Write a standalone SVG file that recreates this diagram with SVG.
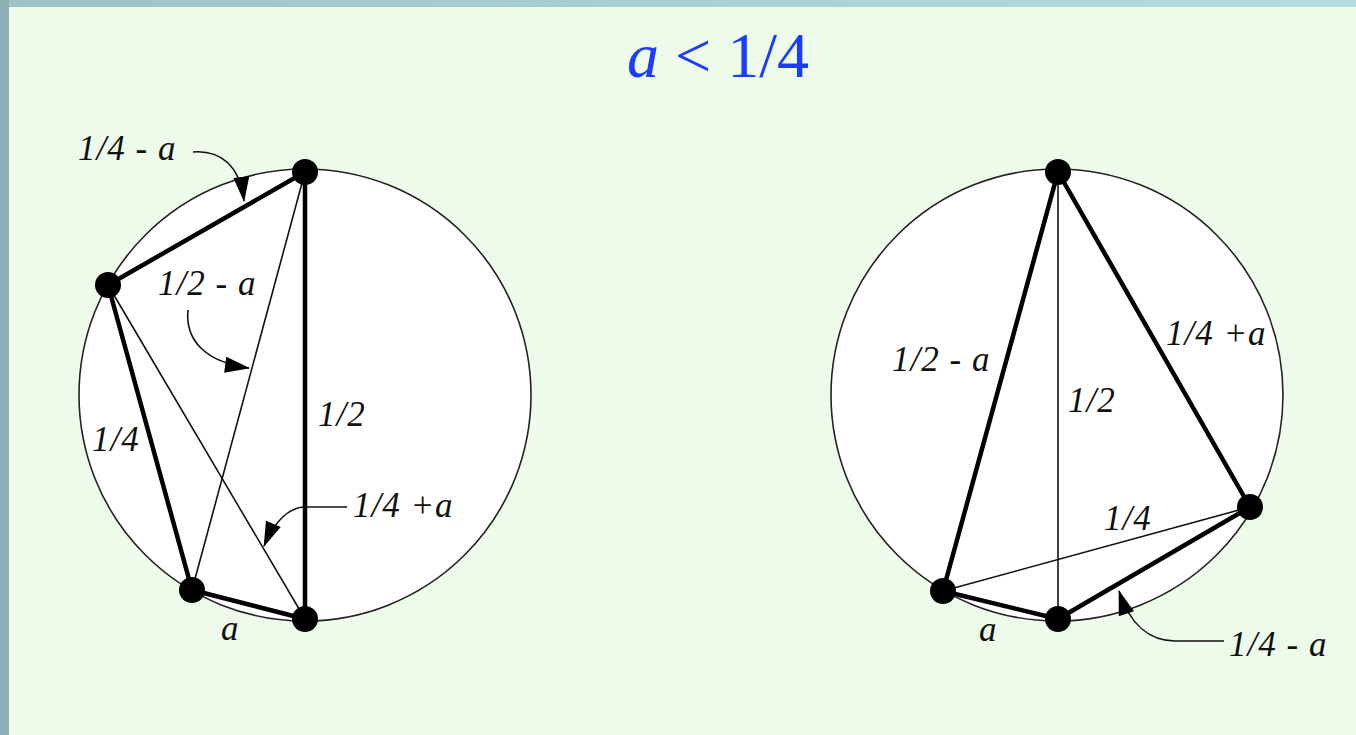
<svg xmlns="http://www.w3.org/2000/svg" width="1356" height="735" viewBox="0 0 1356 735">
<style>
.circ{fill:#fff;stroke:#222;stroke-width:1.6}
.thick{stroke:#000;stroke-width:4.5;fill:none;stroke-linecap:round}
.thin{stroke:#111;stroke-width:1.6;fill:none}
.lead{stroke:#111;stroke-width:1.6;fill:none;marker-end:url(#ah)}
.dot{fill:#000}
.lbl{font-family:"Liberation Serif","DejaVu Serif",serif;font-style:italic;font-size:35px;letter-spacing:1px;fill:#111}
.title{font-family:"Liberation Serif","DejaVu Serif",serif;font-size:64px;fill:#1a3cff}
</style>
<defs>
<linearGradient id="topg" x1="0" y1="0" x2="1" y2="0">
<stop offset="0" stop-color="#9fc2c9"/>
<stop offset="1" stop-color="#b2dde3"/>
</linearGradient>
<marker id="ah" viewBox="-26 -4 28 18" refX="0" refY="5" markerWidth="28" markerHeight="18" markerUnits="userSpaceOnUse" orient="auto">
<path d="M-24,-3 L1,5 L-24,13 Z" fill="#000"/>
</marker>
</defs>
<rect x="0" y="0" width="1356" height="735" fill="#eefbeb"/>
<rect x="0" y="0" width="1356" height="7" fill="url(#topg)"/>
<rect x="0" y="0" width="9" height="735" fill="#8faeb5"/>
<text class="title" x="718" y="77" text-anchor="middle"><tspan font-style="italic">a</tspan> &lt; 1/4</text>

<g id="left-figure">
<circle class="circ" cx="305" cy="395" r="226"/>
</g>
<g id="right-figure">
<circle class="circ" cx="1057" cy="395" r="226"/>
</g>

<g id="connectors">
<line class="thick" x1="108" y1="285" x2="305" y2="172"/>
<line class="thick" x1="305" y1="172" x2="305" y2="619"/>
<line class="thick" x1="108" y1="285" x2="192" y2="590"/>
<line class="thick" x1="192" y1="590" x2="305" y2="619"/>
<line class="thin" x1="305" y1="172" x2="192" y2="590"/>
<line class="thin" x1="108" y1="285" x2="305" y2="619"/>
<path class="lead" d="M193,152 C220,150 240,165 244,201"/>
<path class="lead" d="M188,310 C185,340 205,362 249,368"/>
<path class="lead" d="M347,507 L305,507 C290,507 275,520 264,546"/>

<line class="thick" x1="1058" y1="172" x2="943" y2="591"/>
<line class="thick" x1="1058" y1="172" x2="1250" y2="507"/>
<line class="thick" x1="943" y1="591" x2="1058" y2="619"/>
<line class="thick" x1="1058" y1="619" x2="1250" y2="507"/>
<line class="thin" x1="1058" y1="172" x2="1058" y2="619"/>
<line class="thin" x1="943" y1="591" x2="1250" y2="507"/>
<path class="lead" d="M1224,641 L1175,641 C1150,641 1130,625 1119,591"/>
</g>

<g id="node-L-top"><circle class="dot" cx="305" cy="172" r="13"/></g>
<g id="node-L-left"><circle class="dot" cx="108" cy="285" r="13"/></g>
<g id="node-L-botleft"><circle class="dot" cx="192" cy="590" r="13"/></g>
<g id="node-L-bot"><circle class="dot" cx="305" cy="619" r="13"/></g>
<g id="node-R-top"><circle class="dot" cx="1058" cy="172" r="13"/></g>
<g id="node-R-right"><circle class="dot" cx="1250" cy="507" r="13"/></g>
<g id="node-R-botleft"><circle class="dot" cx="943" cy="591" r="13"/></g>
<g id="node-R-bot"><circle class="dot" cx="1058" cy="619" r="13"/></g>

<g id="labels">
<text class="lbl" x="78" y="160">1/4 - a</text>
<text class="lbl" x="158" y="295">1/2 - a</text>
<text class="lbl" x="318" y="426">1/2</text>
<text class="lbl" x="92" y="451">1/4</text>
<text class="lbl" x="353" y="517">1/4 +a</text>
<text class="lbl" x="221" y="640">a</text>
<text class="lbl" x="892" y="371">1/2 - a</text>
<text class="lbl" x="1068" y="412">1/2</text>
<text class="lbl" x="1166" y="345">1/4 +a</text>
<text class="lbl" x="1104" y="530">1/4</text>
<text class="lbl" x="979" y="641">a</text>
<text class="lbl" x="1229" y="656">1/4 - a</text>
</g>
</svg>
